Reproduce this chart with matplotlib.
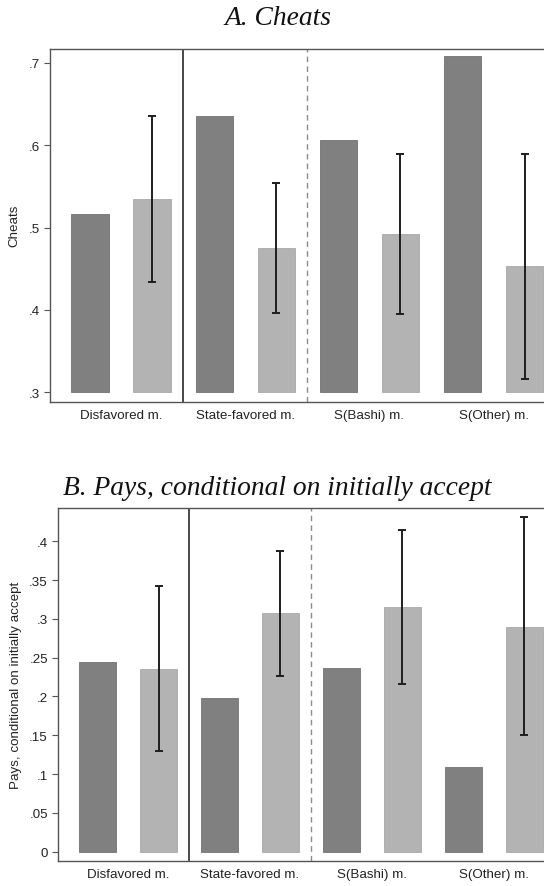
import numpy as np
import matplotlib
matplotlib.use("Agg")
import matplotlib.pyplot as plt

plt.rcParams['font.family'] = ['Liberation Sans', 'DejaVu Sans']

# group labels
groups = ['Disfavored m.', 'State-favored m.', 'S(Bashi) m.', 'S(Other) m.']

# panel A: cheats
cheats_dark = [0.517, 0.636, 0.606, 0.708]
cheats_light = [0.535, 0.475, 0.492, 0.453]
cheats_lo = [0.434, 0.396, 0.395, 0.316]
cheats_hi = [0.636, 0.554, 0.589, 0.590]

# panel B: pays, conditional on initially accept
pays_dark = [0.244, 0.198, 0.237, 0.109]
pays_light = [0.236, 0.307, 0.315, 0.290]
pays_lo = [0.130, 0.227, 0.216, 0.151]
pays_hi = [0.342, 0.387, 0.415, 0.431]

cheats_ticks = [0.3, 0.4, 0.5, 0.6, 0.7]
cheats_ticklabels = ['.3', '.4', '.5', '.6', '.7']
pays_ticks = [0, 0.05, 0.1, 0.15, 0.2, 0.25, 0.3, 0.35, 0.4]
pays_ticklabels = ['0', '.05', '.1', '.15', '.2', '.25', '.3', '.35', '.4']

DARK = '#808080'
LIGHT = '#b3b3b3'
SPINE = '#555555'


def draw_panel(ax, dark, light, lo, hi, base, ylim, ticks, ticklabels, ylabel, label_x):
    n = len(dark)
    xd = np.arange(n) * 2
    xl = xd + 1
    dark = np.array(dark)
    light = np.array(light)
    ax.bar(xd, dark - base, bottom=base, width=0.6, color=DARK,
           edgecolor='#727272', linewidth=0.6, zorder=2)
    ax.bar(xl, light - base, bottom=base, width=0.6, color=LIGHT,
           edgecolor='#a9a9a9', linewidth=0.6, zorder=2)
    ax.errorbar(xl, light, yerr=[light - np.array(lo), np.array(hi) - light],
                fmt='none', ecolor='#1e1e1e', elinewidth=1.4, capsize=2.8,
                capthick=1.4, zorder=3)
    ax.axvline(1.5, color='#2a2a2a', lw=1.2, zorder=1)
    ax.axvline(3.5, color='#8c8c8c', lw=1.0, dashes=(4, 3), zorder=1)

    ax.set_xlim(-0.645, 7.645)
    ax.set_ylim(*ylim)
    ax.set_xticks(xd + 0.5)
    ax.set_xticklabels(groups, fontsize=9.6, color='#222222')
    ax.tick_params(axis='x', length=0, pad=5)
    ax.set_yticks(ticks)
    ax.set_yticklabels(ticklabels, fontsize=9.6, color='#222222')
    ax.tick_params(axis='y', length=4.3, width=0.8, color=SPINE, pad=3.2)
    ax.set_ylabel(ylabel, fontsize=9.6, color='#222222', va='center')
    ax.yaxis.set_label_coords(label_x, 0.5)
    for s in ['left', 'bottom', 'top']:
        ax.spines[s].set_color(SPINE)
        ax.spines[s].set_linewidth(1.0)
    ax.spines['right'].set_visible(False)


fig = plt.figure(figsize=(5.44, 8.87), dpi=100)

ax1 = fig.add_axes([50 / 544, (887 - 402.7) / 887, 514.6 / 544, 353.2 / 887])
draw_panel(ax1, cheats_dark, cheats_light, cheats_lo, cheats_hi, 0.3,
           (0.2886, 0.7176), cheats_ticks, cheats_ticklabels, 'Cheats', -0.069)

ax2 = fig.add_axes([58.3 / 544, (887 - 862) / 887, 505.3 / 544, 352.7 / 887])
draw_panel(ax2, pays_dark, pays_light, pays_lo, pays_hi, 0.0,
           (-0.012, 0.4425), pays_ticks, pays_ticklabels,
           'Pays, conditional on initially accept', -0.0845)

fig.text(278 / 544, 1 - 25 / 887, 'A. Cheats', ha='center', va='baseline',
         family='Liberation Serif', style='italic', fontsize=19.8, color='#111111')
fig.text(277 / 544, 1 - 495 / 887, 'B. Pays, conditional on initially accept',
         ha='center', va='baseline', family='Liberation Serif', style='italic',
         fontsize=19.8, color='#111111')

fig.savefig('out.png', dpi=100)
